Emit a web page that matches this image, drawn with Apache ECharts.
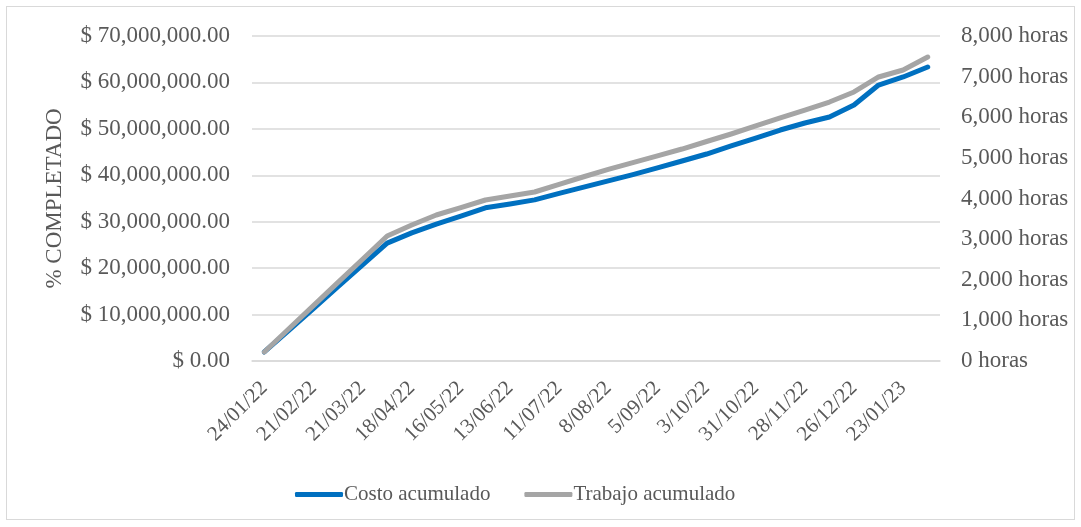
<!DOCTYPE html>
<html>
<head>
<meta charset="utf-8">
<title>Costo y trabajo acumulado</title>
<script src="https://cdn.jsdelivr.net/npm/echarts@6/dist/echarts.min.js"></script>
<style>
  html, body { margin: 0; padding: 0; background: #fff; }
  #chart { position: absolute; left: 0; top: 0; width: 1081px; height: 527px; }
  .frame {
    position: absolute; left: 6px; top: 6px; width: 1069px; height: 514px;
    border: 1px solid #d9d9d9; box-sizing: border-box; pointer-events: none;
  }
</style>
</head>
<body>
<div id="chart"></div>
<div class="frame"></div>
<script>
// fechas quincenales (etiqueta cada 4 semanas)
const fechas = [
  '24/01/22', '7/02/22', '21/02/22', '7/03/22', '21/03/22', '4/04/22', '18/04/22',
  '2/05/22', '16/05/22', '30/05/22', '13/06/22', '27/06/22', '11/07/22', '25/07/22',
  '8/08/22', '22/08/22', '5/09/22', '19/09/22', '3/10/22', '17/10/22', '31/10/22',
  '14/11/22', '28/11/22', '12/12/22', '26/12/22', '9/01/23', '23/01/23', '6/02/23'
]

// costo acumulado ($)
const costoAcumulado = [
  1940000, 6600000, 11300000, 16000000, 20700000, 25400000, 27600000,
  29500000, 31200000, 33000000, 33800000, 34700000, 36100000, 37450000,
  38800000, 40150000, 41600000, 43080000, 44580000, 46310000, 48030000,
  49750000, 51260000, 52550000, 55140000, 59440000, 61170000, 63320000
]

// trabajo acumulado (horas)
const trabajoAcumulado = [
  222, 793, 1364, 1935, 2506, 3077, 3348,
  3594, 3778, 3963, 4062, 4160, 4350, 4535,
  4715, 4885, 5050, 5218, 5403, 5588, 5785,
  5982, 6178, 6375, 6622, 6991, 7163, 7483
]

const FONT = '"Liberation Serif", "Times New Roman", serif'
const TEXT_COLOR = '#595959'
const GRID_COLOR = '#d9d9d9'

const fmtMoney = (v) => '$ ' + v.toLocaleString('en-US', { minimumFractionDigits: 2, maximumFractionDigits: 2 })
const fmtHoras = (v) => v.toLocaleString('en-US') + ' horas'

const chart = echarts.init(document.getElementById('chart'))

const option = {
  animation: false,
  backgroundColor: '#fff',
  textStyle: { fontFamily: FONT },
  grid: { left: 252, right: 141, top: 36, bottom: 166 },
  legend: {
    bottom: 17,
    left: 290,
    itemWidth: 48,
    itemHeight: 5,
    itemGap: 34,
    icon: 'roundRect',
    textStyle: { fontFamily: FONT, fontSize: 21, color: TEXT_COLOR, padding: [0, 0, 0, -4] },
    data: ['Costo acumulado', 'Trabajo acumulado']
  },
  xAxis: {
    type: 'category',
    data: fechas,
    boundaryGap: true,
    axisLine: { lineStyle: { color: GRID_COLOR, width: 1.5 } },
    axisTick: { show: false },
    axisLabel: {
      interval: 1,
      rotate: 45,
      margin: 24,
      fontFamily: FONT,
      fontSize: 21,
      color: TEXT_COLOR
    }
  },
  yAxis: [
    {
      type: 'value',
      min: 0,
      max: 70000000,
      interval: 10000000,
      name: '% COMPLETADO',
      nameLocation: 'middle',
      nameGap: 186,
      nameTextStyle: { fontFamily: FONT, fontSize: 23, color: TEXT_COLOR },
      axisLine: { show: false },
      axisTick: { show: false },
      splitLine: { lineStyle: { color: GRID_COLOR, width: 1.5 } },
      axisLabel: { margin: 22, fontFamily: FONT, fontSize: 23, color: TEXT_COLOR, formatter: fmtMoney }
    },
    {
      type: 'value',
      min: 0,
      max: 8000,
      interval: 1000,
      position: 'right',
      axisLine: { show: false },
      axisTick: { show: false },
      splitLine: { show: false },
      axisLabel: { margin: 21, fontFamily: FONT, fontSize: 23, color: TEXT_COLOR, formatter: fmtHoras }
    }
  ],
  series: [
    {
      name: 'Costo acumulado',
      type: 'line',
      yAxisIndex: 0,
      data: costoAcumulado,
      symbol: 'none',
      itemStyle: { color: '#0070C0' },
      lineStyle: { color: '#0070C0', width: 5, cap: 'round', join: 'round' }
    },
    {
      name: 'Trabajo acumulado',
      type: 'line',
      yAxisIndex: 1,
      data: trabajoAcumulado,
      symbol: 'none',
      itemStyle: { color: '#A5A5A5' },
      lineStyle: { color: '#A5A5A5', width: 5, cap: 'round', join: 'round' }
    }
  ]
}

chart.setOption(option)
</script>
</body>
</html>
